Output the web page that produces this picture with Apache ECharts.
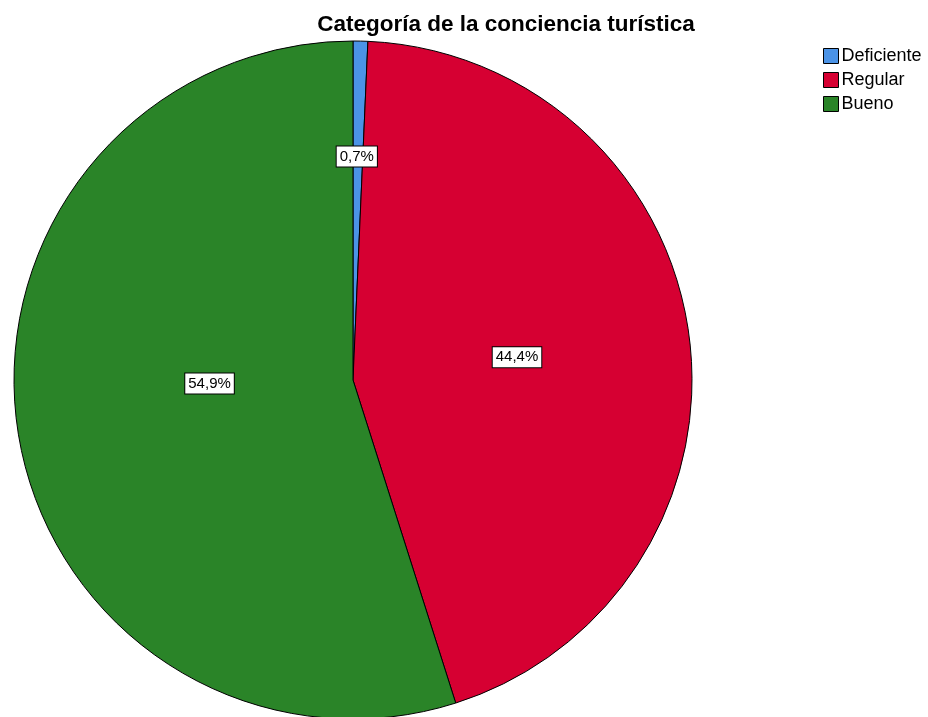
<!DOCTYPE html>
<html>
<head>
<meta charset="utf-8">
<script src="https://cdn.jsdelivr.net/npm/echarts@6/dist/echarts.min.js"></script>
<style>
  html, body { margin: 0; padding: 0; background: #fff; }
  #chart { width: 928px; height: 717px; }
</style>
</head>
<body>
<div id="chart"></div>
<script>
const categories = ['Deficiente', 'Regular', 'Bueno']
const percents = [0.7, 44.4, 54.9]
const colors = ['#4b93e6', '#d60032', '#2a8428']

const chart = echarts.init(document.getElementById('chart'))

chart.setOption({
  animation: false,
  title: {
    text: 'Categoría de la conciencia turística',
    left: 501,
    textAlign: 'center',
    top: 8,
    textStyle: {
      fontFamily: 'Liberation Sans',
      fontSize: 22.5,
      fontWeight: 'bold',
      color: '#000'
    }
  },
  legend: {
    orient: 'vertical',
    left: 818,
    top: 42,
    icon: 'rect',
    itemWidth: 15,
    itemHeight: 15,
    itemGap: 6,
    itemStyle: { borderColor: '#000', borderWidth: 1 },
    textStyle: {
      fontFamily: 'Liberation Sans',
      fontSize: 18,
      color: '#000',
      padding: [0, 0, 0, -2]
    },
    data: categories
  },
  series: [
    {
      type: 'pie',
      center: [353, 380],
      radius: 339,
      startAngle: 90,
      clockwise: true,
      emphasis: { disabled: true },
      itemStyle: { borderColor: '#000', borderWidth: 1 },
      label: {
        show: true,
        position: 'inside',
        formatter: ({ value }) => value.toFixed(1).replace('.', ',') + '%',
        fontFamily: 'Liberation Sans',
        fontSize: 15,
        color: '#000',
        backgroundColor: '#fff',
        borderColor: '#000',
        borderWidth: 1,
        padding: [3, 3, 2, 3]
      },
      labelLine: { show: false },
      data: categories.map((name, i) => ({
        name,
        value: percents[i],
        itemStyle: { color: colors[i] },
        // etiquetas desplazadas como en el original
        label: { offset: [[0, -51], [-7, 0], [27, -23]][i] }
      }))
    }
  ]
})
</script>
</body>
</html>
